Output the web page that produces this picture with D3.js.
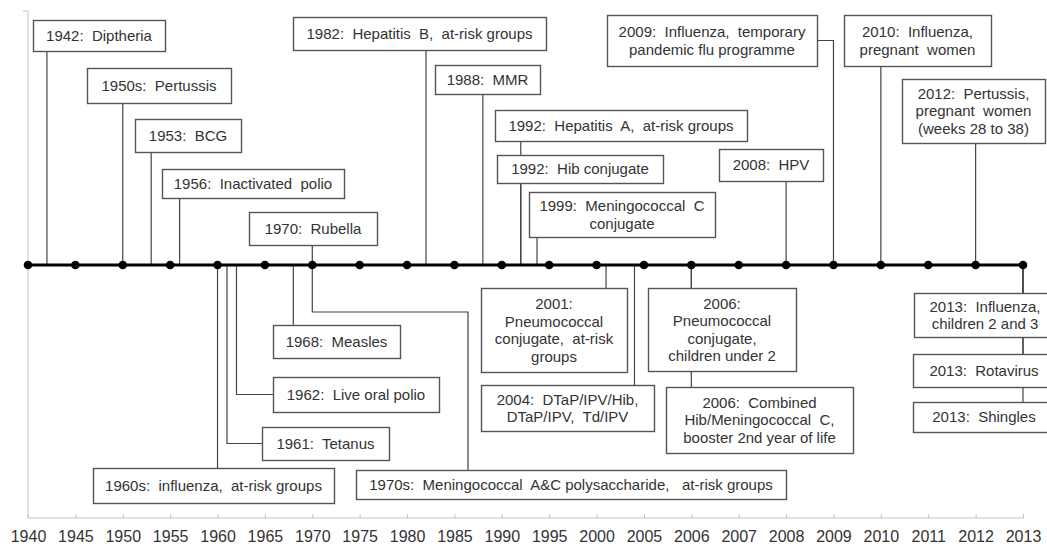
<!DOCTYPE html>
<html>
<head>
<meta charset="utf-8">
<script src="https://cdn.jsdelivr.net/npm/d3@7"></script>
<style>
  html, body { margin: 0; padding: 0; background: #fff; }
  svg { display: block; font-family: "Liberation Sans", Arial, sans-serif; }
</style>
</head>
<body>
<div id="chart"></div>
<script>
// tick labels along the bottom (5-year steps, then yearly)
const tickYears = [1940, 1945, 1950, 1955, 1960, 1965, 1970, 1975, 1980, 1985, 1990, 1995, 2000, 2005,
  2006, 2007, 2008, 2009, 2010, 2011, 2012, 2013];

// programme introductions
const eventYears = [1942, 1950, 1953, 1956, 1970, 1982, 1988, 1992, 1992, 1999, 2008, 2009, 2010, 2012,
  2001, 2004, 2006, 2006, 2013, 2013, 2013, 1968, 1962, 1961, 1960, 1970];

const eventLabels = [
  '1942:  Diptheria',
  '1950s:  Pertussis',
  '1953:  BCG',
  '1956:  Inactivated  polio',
  '1970:  Rubella',
  '1982:  Hepatitis  B,  at-risk groups',
  '1988:  MMR',
  '1992:  Hepatitis  A,  at-risk groups',
  '1992:  Hib conjugate',
  '1999:  Meningococcal  C\nconjugate',
  '2008:  HPV',
  '2009:  Influenza,  temporary\npandemic flu programme',
  '2010:  Influenza,\npregnant  women',
  '2012:  Pertussis,\npregnant  women\n(weeks 28 to 38)',
  '2001:\nPneumococcal\nconjugate,  at-risk\ngroups',
  '2004:  DTaP/IPV/Hib,\nDTaP/IPV,  Td/IPV',
  '2006:\nPneumococcal\nconjugate,\nchildren under 2',
  '2006:  Combined\nHib/Meningococcal  C,\nbooster 2nd year of life',
  '2013:  Influenza,\nchildren 2 and 3',
  '2013:  Rotavirus',
  '2013:  Shingles',
  '1968:  Measles',
  '1962:  Live oral polio',
  '1961:  Tetanus',
  '1960s:  influenza,  at-risk groups',
  '1970s:  Meningococcal  A&C polysaccharide,   at-risk groups'
];

// box placement for each event (same order), in pixels
// (the 1999 box in the original hangs off the timeline left of its year, so its leader is pinned)
const boxes = [
  { x: 33, y: 20, w: 132, h: 31 },
  { x: 87, y: 68, w: 144, h: 35 },
  { x: 135, y: 119, w: 106, h: 33 },
  { x: 162, y: 169, w: 182, h: 29 },
  { x: 249, y: 212, w: 128, h: 33 },
  { x: 293, y: 17, w: 253, h: 33 },
  { x: 435, y: 65, w: 105, h: 29 },
  { x: 495, y: 110, w: 252, h: 31 },
  { x: 497, y: 155, w: 166, h: 28 },
  { x: 529, y: 192, w: 186, h: 45, leaderAt: 537 },
  { x: 719, y: 149, w: 104, h: 32 },
  { x: 607, y: 15, w: 210, h: 51, route: 'right' },
  { x: 844, y: 15, w: 147, h: 51 },
  { x: 902, y: 79, w: 143, h: 64 },
  { x: 481, y: 288, w: 146, h: 84 },
  { x: 481, y: 385, w: 173, h: 46 },
  { x: 648, y: 288, w: 148, h: 83 },
  { x: 666, y: 387, w: 187, h: 66 },
  { x: 914, y: 293, w: 142, h: 44 },
  { x: 913, y: 354, w: 142, h: 33 },
  { x: 913, y: 402, w: 142, h: 30 },
  { x: 273, y: 325, w: 127, h: 33 },
  { x: 273, y: 377, w: 166, h: 35, route: 'left' },
  { x: 262, y: 427, w: 127, h: 33, route: 'left' },
  { x: 93, y: 468, w: 241, h: 35 },
  { x: 356, y: 470, w: 430, h: 29, route: 'elbow', via: [468, 312] }
];

const WIDTH = 1047;
const HEIGHT = 547;
const LINE_Y = 265;   // the timeline
const AXIS_Y = 518;   // bottom axis
const X0 = 28, X1 = 1023;

const svg = d3.select('#chart').append('svg')
  .attr('width', WIDTH)
  .attr('height', HEIGHT);

// piecewise scale: 1940-2005 in 5-year steps, 2005-2013 yearly, equal spacing per tick
const step = (X1 - X0) / (tickYears.length - 1);
const x = d3.scaleLinear()
  .domain([1940, 2005, 2013])
  .range([X0, X0 + 13 * step, X1]);

// light gray frame axes
svg.append('line')
  .attr('x1', X0).attr('x2', X0)
  .attr('y1', 11).attr('y2', AXIS_Y)
  .attr('stroke', '#c4c4c4');
svg.append('line')
  .attr('x1', X0 - 5).attr('x2', X0)
  .attr('y1', 11).attr('y2', 11)
  .attr('stroke', '#c4c4c4');

const xAxis = svg.append('g')
  .attr('transform', `translate(0, ${AXIS_Y})`)
  .call(d3.axisBottom(x).tickValues(tickYears).tickFormat(d3.format('d')).tickSize(-4).tickPadding(13));

xAxis.select('.domain').attr('stroke', '#c4c4c4').attr('d', `M${X0},0H${X1}`);
xAxis.selectAll('.tick line').attr('stroke', '#c4c4c4');
xAxis.selectAll('.tick text')
  .attr('fill', '#333')
  .attr('font-size', '16px')
  .attr('font-family', '"Liberation Sans", Arial, sans-serif');

// leader lines
const events = eventYears.map((year, i) => ({ year, label: eventLabels[i], box: boxes[i] }));

const leaderPath = (d) => {
  const b = d.box;
  const px = b.leaderAt !== undefined ? b.leaderAt : x(d.year);
  if (b.y + b.h < LINE_Y) {
    if (b.route === 'right') {
      return `M${b.x + b.w},${b.y + b.h / 2}H${px}V${LINE_Y}`;
    }
    return `M${px},${b.y + b.h}V${LINE_Y}`;
  }
  if (b.route === 'left') {
    return `M${px},${LINE_Y}V${b.y + b.h / 2}H${b.x}`;
  }
  if (b.route === 'elbow') {
    return `M${px},${LINE_Y}V${b.via[1]}H${b.via[0]}V${b.y}`;
  }
  return `M${px},${LINE_Y}V${b.y}`;
};

svg.append('g')
  .selectAll('path')
  .data(events)
  .join('path')
  .attr('d', leaderPath)
  .attr('fill', 'none')
  .attr('stroke', '#444')
  .attr('stroke-width', 1.2);

// label boxes
const LH = 17.5;
const box = svg.append('g')
  .selectAll('g')
  .data(events)
  .join('g');

box.append('rect')
  .attr('x', d => d.box.x + 0.5)
  .attr('y', d => d.box.y + 0.5)
  .attr('width', d => d.box.w)
  .attr('height', d => d.box.h)
  .attr('fill', '#fff')
  .attr('stroke', '#555')
  .attr('stroke-width', 1.4);

box.append('text')
  .attr('text-anchor', 'middle')
  .attr('font-size', '15px')
  .attr('fill', '#333')
  .attr('xml:space', 'preserve')
  .style('white-space', 'pre')
  .each(function(d) {
    const lines = d.label.split('\n');
    const cx = d.box.x + d.box.w / 2;
    const cy = d.box.y + d.box.h / 2;
    d3.select(this).selectAll('tspan')
      .data(lines)
      .join('tspan')
      .attr('x', cx)
      .attr('y', (l, j) => cy + (j - (lines.length - 1) / 2) * LH)
      .attr('dy', '0.35em')
      .text(l => l);
  });

// the timeline itself
svg.append('line')
  .attr('x1', X0).attr('x2', X1)
  .attr('y1', LINE_Y).attr('y2', LINE_Y)
  .attr('stroke', '#000')
  .attr('stroke-width', 3);

svg.append('g')
  .selectAll('circle')
  .data(tickYears)
  .join('circle')
  .attr('cx', d => x(d))
  .attr('cy', LINE_Y)
  .attr('r', 4.3)
  .attr('fill', '#000');
</script>
</body>
</html>
